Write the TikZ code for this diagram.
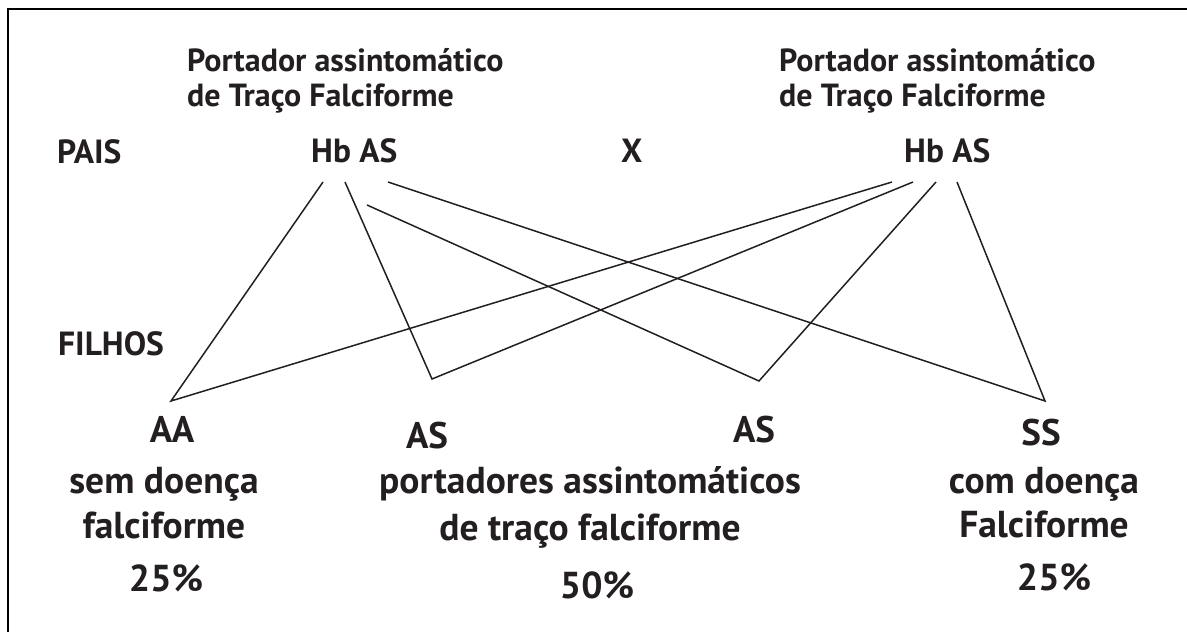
\documentclass[tikz,border=0pt]{standalone}
\usepackage{fontspec}
\setmainfont{PT Sans}
\definecolor{ink}{HTML}{231F20}
\tikzset{
  lbl/.style={inner sep=0pt, text=ink, font=\bfseries\fontsize{32}{36}\selectfont},
  head/.style={inner sep=0pt, text=ink, font=\bfseries\fontsize{33.5}{38}\selectfont},
  geno/.style={inner sep=0pt, text=ink, font=\bfseries\fontsize{37}{42}\selectfont},
  desc/.style={inner sep=0pt, text=ink, font=\bfseries\fontsize{37.5}{42}\selectfont},
  cross/.style={draw=ink, line width=1.5pt},
  frame/.style={draw=black, line width=2.6pt}
}
\begin{document}
\begin{tikzpicture}[x=1pt,y=-1pt]
\useasboundingbox (0,0) rectangle (1187,632);
% frame (top and left only)
\coordinate (fTL) at (8,9);
\coordinate (fTR) at (1190,9);
\coordinate (fBL) at (8,640);
\draw[frame] (fTR) -- (fTL) -- (fBL);
% titles
\node[lbl, anchor=base west] (tl1) at (187,71) {Portador assintomático};
\node[lbl, anchor=base west] (tl2) at (187,106) {de Traço Falciforme};
\node[lbl, anchor=base west] (tr1) at (779,71) {Portador assintomático};
\node[lbl, anchor=base west] (tr2) at (779,106) {de Traço Falciforme};
% parents row
\node[head, anchor=base west] (pais) at (57,163) {PAIS};
\node[head, anchor=base west] (hbl) at (311,162) {Hb AS};
\node[head, anchor=base west] (x) at (621,162) {X};
\node[head, anchor=base west] (hbr) at (904,162) {Hb AS};
\node[head, anchor=base west] (filhos) at (58,355) {FILHOS};
% children genotypes
\node[geno, anchor=base] (aa) at (172,442) {AA};
\node[geno, anchor=base] (asl) at (427,448) {AS};
\node[geno, anchor=base] (asr) at (754,442) {AS};
\node[geno, anchor=base] (ss) at (1041,445) {SS};
% descriptions
\node[desc, anchor=base] (d1a) at (164,493) {sem doença};
\node[desc, anchor=base] (d1b) at (164,538) {falciforme};
\node[desc, anchor=base] (d2a) at (590,493) {portadores assintomáticos};
\node[desc, anchor=base] (d2b) at (590,540) {de traço falciforme};
\node[desc, anchor=base] (d3a) at (1044,493) {com doença};
\node[desc, anchor=base] (d3b) at (1044,537) {Falciforme};
% percentages
\node[desc, anchor=base] (p1) at (166,591) {25\%};
\node[desc, anchor=base] (p2) at (597,598) {50\%};
\node[desc, anchor=base] (p3) at (1054,590) {25\%};
% line start points below the parents
\coordinate (l1) at (323,182);
\coordinate (l2) at (345,182);
\coordinate (l3) at (367,205);
\coordinate (l4) at (388,182);
\coordinate (r1) at (892,182);
\coordinate (r2) at (913,182);
\coordinate (r3) at (936,182);
\coordinate (r4) at (957,182);
% vertices above the children
\coordinate (vaa) at (171,401);
\coordinate (vasl) at (432,379);
\coordinate (vasr) at (759,381);
\coordinate (vss) at (1045,401);
% crosses
\draw[cross] (l1) -- (vaa) -- (r1);
\draw[cross] (l2) -- (vasl) -- (r2);
\draw[cross] (l3) -- (vasr) -- (r3);
\draw[cross] (l4) -- (vss) -- (r4);
\end{tikzpicture}
\end{document}
